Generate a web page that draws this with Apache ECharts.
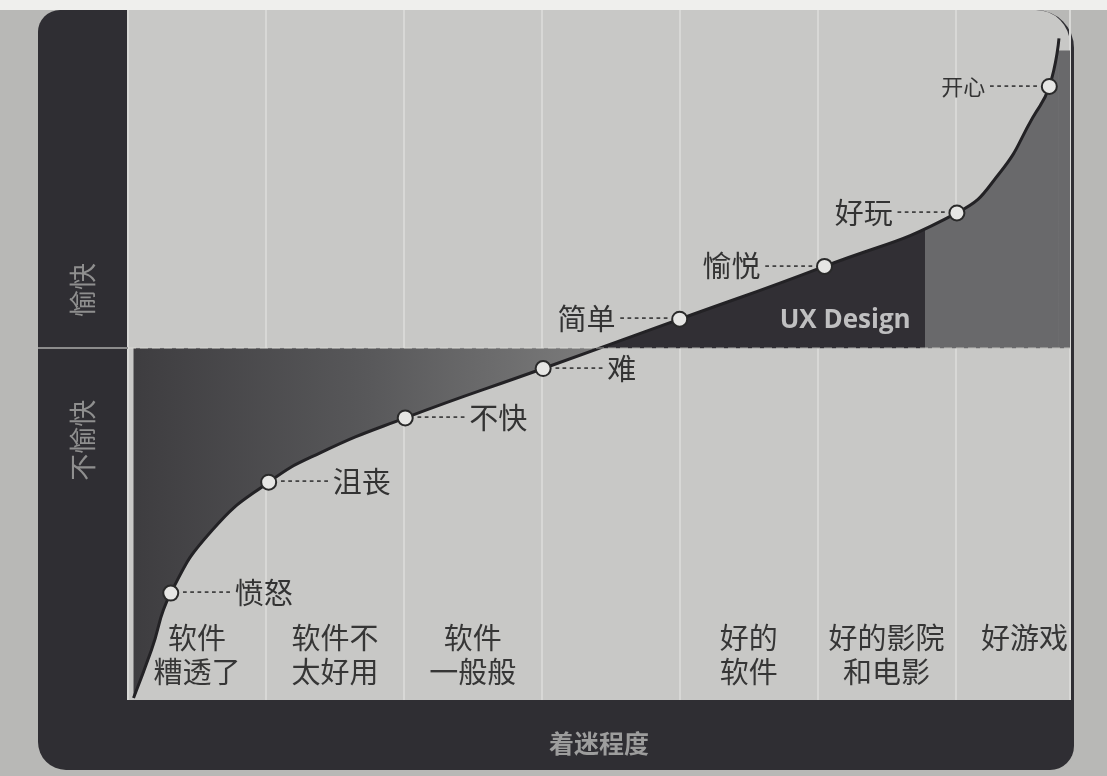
<!DOCTYPE html>
<html>
<head>
<meta charset="utf-8">
<title>着迷程度</title>
<script src="https://cdn.jsdelivr.net/npm/echarts@6/dist/echarts.min.js"></script>
<style>
  html, body { margin: 0; padding: 0; background: #b8b8b6; }
  #main { width: 1107px; height: 776px; }
</style>
</head>
<body>
<div id="main"></div>
<script>
// curve (x in column units, y = mood, 0 is neutral)
const curveX = [0.04, 0.17, 0.31, 0.61, 1.02, 1.39, 2.01, 3.01, 4.0, 5.05, 6.01, 6.32, 6.56, 6.68, 6.75]
const curveY = [-51.7, -44.6, -36.2, -26.9, -19.8, -15.5, -10.3, -3.0, 4.3, 12.1, 20.0, 25.9, 34.1, 38.7, 45.8]
const moods = ['', '', '愤怒', '', '沮丧', '', '不快', '难', '简单', '愉悦', '好玩', '', '', '开心', '']

const columns = ['软件\n糟透了', '软件不\n太好用', '软件\n一般般', '', '好的\n软件', '好的影院\n和电影', '好游戏']
const columnTicks = [0.5, 1.5, 2.5, 3.5, 4.5, 5.5, 6.5]

const bandNames = ['不愉快', '愉快']
const bandTicks = [-13.6, 8.6]

// where the shading changes
const neutralCross = 3.42
const uxEnd = 5.78
const uxLabel = ['UX Design', 5.2, 4.1]

const xMax = 6.83
const yMin = -52
const yMax = 50

const gridLeft = 128
const gridTop = 10
const gridRight = 37
const gridBottom = 76
const cjk = '"Noto Sans CJK SC", sans-serif'

const chart = echarts.init(document.getElementById('main'))

// gradient stops are relative to the area's own box (first to last point)
const span = curveX[curveX.length - 1] - curveX[0]
const crossAt = (neutralCross - curveX[0]) / span
const uxAt = (uxEnd - curveX[0]) / span
const areaColor = new echarts.graphic.LinearGradient(0, 0, 1, 0, [
  { offset: 0, color: '#3e3d40' },
  { offset: crossAt * 0.5, color: '#58585a' },
  { offset: crossAt, color: '#7c7c7c' },
  { offset: crossAt, color: '#312f34' },
  { offset: uxAt, color: '#312f34' },
  { offset: uxAt, color: '#69696b' },
  { offset: 1, color: '#69696b' }
])

const dashes = '-------'

function moodLabel (name, x, y) {
  if (!name) return { show: false }
  const left = x > neutralCross
  return {
    show: true,
    position: left ? 'left' : 'right',
    distance: 2,
    formatter: left ? '{t|' + name + '}{l|' + dashes + '}' : '{l|' + dashes + '}{t|' + name + '}',
    rich: {
      t: { fontFamily: cjk, fontSize: y > 30 ? 22 : 29, color: '#333', padding: [0, 3, 0, 3] },
      l: { fontFamily: '"DejaVu Sans Mono", monospace', fontWeight: 'bold', fontSize: 12, color: '#444' }
    }
  }
}

const plotW = 1107 - gridLeft - gridRight
const plotH = 776 - gridTop - gridBottom

chart.setOption({
  animation: false,
  backgroundColor: '#b8b8b6',
  graphic: [
    { type: 'rect', z: -20, shape: { x: 0, y: 0, width: 1107, height: gridTop }, style: { fill: '#efefed' } },
    {
      type: 'rect', z: -19,
      shape: { x: 38, y: gridTop, width: gridLeft + plotW + 4 - 38, height: 770 - gridTop, r: [22, 38, 24, 28] },
      style: { fill: '#2f2e33' }
    },
    {
      type: 'rect', z: -18,
      shape: { x: gridLeft, y: gridTop, width: plotW, height: plotH, r: [0, 34, 0, 0] },
      style: { fill: '#c8c8c6' }
    }
  ],
  grid: { left: gridLeft, top: gridTop, right: gridRight, bottom: gridBottom },
  xAxis: {
    type: 'value',
    min: 0,
    max: xMax,
    interval: 1,
    axisLine: { show: false },
    axisTick: { show: false },
    splitLine: { show: true, lineStyle: { color: '#d8d8d6', width: 2 } },
    axisLabel: {
      customValues: columnTicks,
      inside: true,
      margin: 11,
      formatter: (v) => {
        const s = columns[columnTicks.indexOf(v)] || ''
        return s.indexOf('\n') < 0 ? s + '\n ' : s
      },
      color: '#363636',
      fontFamily: cjk,
      fontSize: 29,
      lineHeight: 34
    },
    name: '着迷程度',
    nameLocation: 'middle',
    nameGap: 31,
    nameTextStyle: { color: '#9d9d9d', fontFamily: cjk, fontWeight: 'bold', fontSize: 25 }
  },
  yAxis: {
    type: 'value',
    min: yMin,
    max: yMax,
    axisLine: { show: false },
    splitLine: { show: false },
    axisTick: { show: true, customValues: [0], length: gridLeft - 38, lineStyle: { color: '#8c8c8c', width: 2 } },
    axisLabel: {
      customValues: bandTicks,
      formatter: (v) => bandNames[bandTicks.indexOf(v)],
      rotate: 90,
      margin: 32,
      color: '#8f8f8f',
      fontFamily: cjk,
      fontSize: 27
    }
  },
  series: [
    {
      type: 'line',
      data: curveX.map((x, i) => ({
        value: [x, curveY[i]],
        symbol: moods[i] ? 'circle' : 'none',
        label: moodLabel(moods[i], x, curveY[i])
      })),
      smooth: true,
      symbolSize: 15,
      itemStyle: { color: '#e6e6e4', borderColor: '#2a2a2a', borderWidth: 2 },
      lineStyle: { color: '#232225', width: 3 },
      areaStyle: { origin: 0, opacity: 1, color: areaColor },
      markArea: {
        silent: true,
        itemStyle: { color: '#69696b' },
        data: [[{ xAxis: curveX[curveX.length - 1], yAxis: 0 }, { xAxis: xMax, yAxis: 44 }]]
      },
      markLine: {
        silent: true,
        symbol: 'none',
        label: { show: false },
        lineStyle: { color: 'rgba(225,225,222,0.35)', type: 'dashed', width: 2 },
        data: [{ yAxis: 0 }]
      },
      z: 3
    },
    {
      type: 'scatter',
      data: [[uxLabel[1], uxLabel[2]]],
      symbolSize: 1,
      itemStyle: { color: 'rgba(0,0,0,0)' },
      silent: true,
      label: {
        show: true,
        position: 'inside',
        formatter: uxLabel[0],
        color: '#e4e4e4',
        fontFamily: '"Open Sans", sans-serif',
        fontWeight: 'bold',
        fontSize: 26
      },
      z: 4
    }
  ]
})
</script>
</body>
</html>
